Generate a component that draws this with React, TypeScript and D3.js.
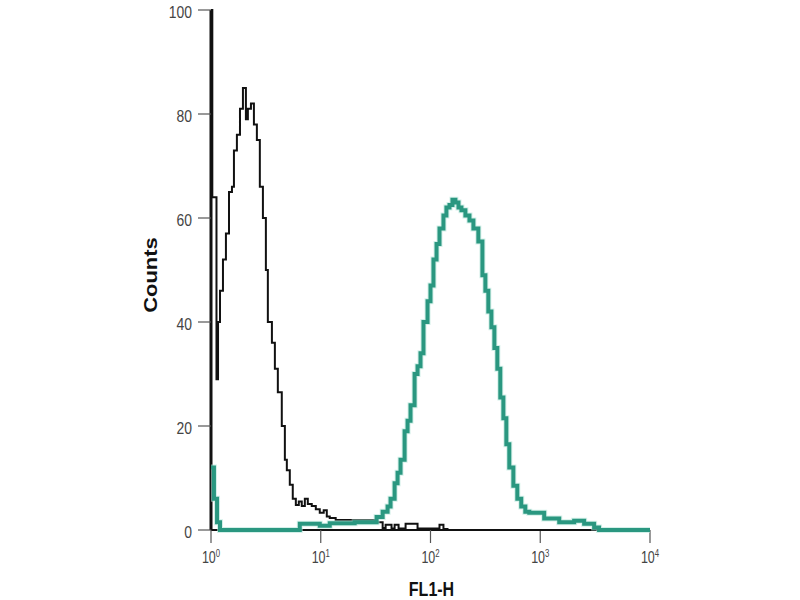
import * as d3 from "d3"

// FL1-H positions stored as log10 exponent, counts
const isotypeLog = [
  0.0, 0.012, 0.05, 0.064, 0.082, 0.109, 0.136, 0.164, 0.191, 0.209, 0.236, 0.264, 0.291, 0.318, 0.336,
  0.364, 0.391, 0.418, 0.445, 0.473, 0.5, 0.518, 0.555, 0.582, 0.609, 0.645, 0.673, 0.691, 0.718, 0.745,
  0.773, 0.8, 0.827, 0.855, 0.882, 0.918, 0.955, 0.991, 1.027, 1.055, 1.082, 1.136, 1.491, 1.564, 1.591,
  1.645, 1.673, 1.709, 1.773, 1.882, 2.082, 2.118, 2.155, 4.0,
]
const isotypeCounts = [
  100, 64, 29, 40, 46, 52, 57, 65, 66, 73, 76, 81, 85, 79, 81,
  82, 78, 75, 66, 60, 50, 40, 36, 31, 26.5, 20, 13.5, 11.5, 8.7, 6,
  4.8, 5.5, 4.6, 6, 5, 4.6, 4, 3.3, 3.8, 2.6, 2.3, 1.9, 1.5, 0.4, 1,
  0.3, 1, 0.3, 1.2, 0.3, 1, 0.2, 0, 0,
]

const stainedLog = [
  0.0, 0.027, 0.055, 0.082, 0.809, 0.991, 1.082, 1.309, 1.509, 1.564, 1.609, 1.636, 1.673, 1.7, 1.727,
  1.764, 1.791, 1.818, 1.855, 1.882, 1.909, 1.936, 1.973, 2.0, 2.027, 2.055, 2.082, 2.118, 2.145, 2.173,
  2.2, 2.227, 2.255, 2.282, 2.318, 2.355, 2.391, 2.436, 2.473, 2.5, 2.527, 2.555, 2.582, 2.609, 2.636,
  2.664, 2.691, 2.718, 2.755, 2.791, 2.827, 2.864, 2.9, 3.036, 3.173, 3.309, 3.4, 3.491, 3.536, 4.0,
]
const stainedCounts = [
  12, 6, 1.5, 0, 1.2, 0.8, 1.3, 1.5, 2.5, 3.5, 4.5, 6, 9, 11, 13.5,
  19, 21, 24, 30, 31.5, 34, 40, 44, 47, 52, 55, 58, 60.5, 62, 62.5,
  63.5, 63, 62, 61.5, 60.5, 59.5, 58, 55.5, 49, 46, 42, 39, 35, 31, 25.5,
  21.5, 16.5, 12, 8.5, 6, 4.5, 3.5, 3.3, 2.2, 1.5, 1.8, 1.2, 0.5, 0, 0,
]

const yTicks = [0, 20, 40, 60, 80, 100]
const xTicks = [1, 10, 100, 1000, 10000]
const xTickExp = ["0", "1", "2", "3", "4"]

const font = "Liberation Sans, Arial, sans-serif"

export default function App() {
  const width = 800
  const height = 600
  const margin = { top: 10, right: 150, bottom: 70, left: 211 }

  const x = d3.scaleLog().domain([1, 10000]).range([margin.left, width - margin.right])
  const y = d3.scaleLinear().domain([0, 100]).range([height - margin.bottom, margin.top])

  type Pt = { v: number; c: number }
  const line = d3
    .line<Pt>()
    .x((d) => x(Math.pow(10, d.v)))
    .y((d) => y(d.c))
    .curve(d3.curveStepAfter)

  const isotype = isotypeLog.map((v, i) => ({ v, c: isotypeCounts[i] }))
  const stained = stainedLog.map((v, i) => ({ v, c: stainedCounts[i] }))

  const x0 = x(1)
  const y0 = y(0)

  return (
    <svg width={width} height={height} style={{ position: "absolute", left: 0, top: 0, background: "#fff" }}>
      {/* y axis */}
      <line x1={x0} x2={x0} y1={y(100)} y2={y0} stroke="#111" strokeWidth={3} />
      {yTicks.map((t) => (
        <g key={t}>
          <line x1={x0 - 13} x2={x0} y1={y(t)} y2={y(t)} stroke="#555" strokeWidth={1.2} />
          <text
            transform={`translate(${x0 - 19}, ${y(t) + 8}) scale(0.82, 1)`}
            textAnchor="end"
            fontFamily={font}
            fontSize={17}
            fill="#444"
          >
            {t}
          </text>
        </g>
      ))}
      {/* x axis */}
      <line x1={x0} x2={x(10000)} y1={y0} y2={y0} stroke="#111" strokeWidth={2} />
      {xTicks.map((t, i) => (
        <g key={t}>
          <line x1={x(t)} x2={x(t)} y1={y0} y2={y0 + 13} stroke="#555" strokeWidth={1.2} />
          <text
            transform={`translate(${x(t)}, ${y0 + 33}) scale(0.78, 1)`}
            textAnchor="middle"
            fontFamily={font}
            fontSize={16}
            fill="#444"
          >
            10
            <tspan fontSize={10} dy={-6}>
              {xTickExp[i]}
            </tspan>
          </text>
        </g>
      ))}
      <text
        transform={`translate(${x(100) + 1}, ${height - 4}) scale(0.8, 1)`}
        textAnchor="middle"
        fontFamily={font}
        fontWeight="bold"
        fontSize={20}
        fill="#111"
      >
        FL1-H
      </text>
      <text
        transform={`translate(157, ${y(50) + 5}) scale(0.8, 1) rotate(-90)`}
        textAnchor="middle"
        fontFamily={font}
        fontWeight="bold"
        fontSize={22}
        fill="#111"
      >
        Counts
      </text>

      {/* histograms */}
      <path d={line(isotype) ?? ""} fill="none" stroke="#111" strokeWidth={2} />
      <path d={line(stained) ?? ""} fill="none" stroke="#b8e6da" strokeWidth={6} opacity={0.6} />
      <path d={line(stained) ?? ""} fill="none" stroke="#2a9780" strokeWidth={4} />
    </svg>
  )
}
